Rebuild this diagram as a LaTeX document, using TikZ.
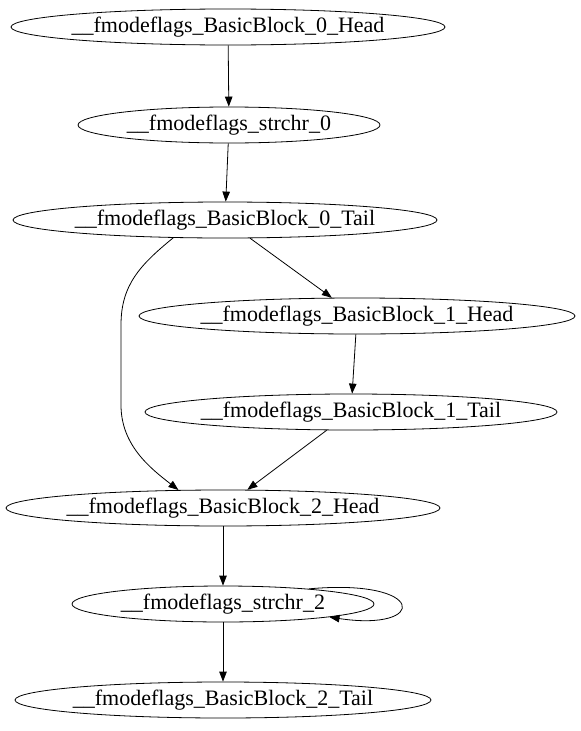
\documentclass[tikz,border=0pt]{standalone}
\usepackage{fontspec}
\setmainfont{Liberation Serif}
\usetikzlibrary{shapes.geometric,arrows.meta}
\begin{document}
\begin{tikzpicture}[x=1pt,y=-1pt,
  blk/.style={draw,ellipse,line width=0.8pt,inner sep=0pt,minimum height=36pt,
    label={[font=\fontsize{22}{24}\selectfont,inner sep=0pt]center:#1}},
  arr/.style={-{Triangle[length=10pt,width=7.5pt]},line width=0.8pt}]
\useasboundingbox (0,0) rectangle (581,731);
\node[blk={\_\_fmodeflags\_BasicBlock\_0\_Head},minimum width=434pt] (h0) at (228,27) {};
\node[blk={\_\_fmodeflags\_strchr\_0},minimum width=302pt] (s0) at (229,125) {};
\node[blk={\_\_fmodeflags\_BasicBlock\_0\_Tail},minimum width=424pt] (t0) at (225,220) {};
\node[blk={\_\_fmodeflags\_BasicBlock\_1\_Head},minimum width=436pt] (h1) at (357,316) {};
\node[blk={\_\_fmodeflags\_BasicBlock\_1\_Tail},minimum width=412pt] (t1) at (351,412) {};
\node[blk={\_\_fmodeflags\_BasicBlock\_2\_Head},minimum width=434pt] (h2) at (223,508) {};
\node[blk={\_\_fmodeflags\_strchr\_2},minimum width=302pt] (s2) at (223,604) {};
\node[blk={\_\_fmodeflags\_BasicBlock\_2\_Tail},minimum width=416pt] (t2) at (223,700) {};

\draw[arr] (h0) -- (s0);
\draw[arr] (s0) -- (t0);
\draw[arr] (t0) -- (h1);
\draw[arr] (h1) -- (t1);
\draw[arr] (t1) -- (h2);
\draw[arr] (t0.199) .. controls (140,265) and (121,285) .. (121,325)
  -- (121,405) .. controls (121,445) and (150,468) .. (h2.158);
\draw[arr] (h2) -- (s2);
\draw[arr] (s2) -- (t2);
\draw[arr] (s2.10) .. controls (428,578) and (428,632) .. (s2.-7.5);
\end{tikzpicture}
\end{document}
